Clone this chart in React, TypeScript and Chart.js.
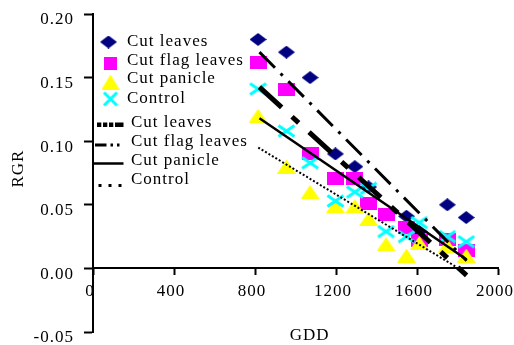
import React, { useEffect, useRef } from "react";
import { Chart, registerables } from "chart.js";

Chart.register(...registerables);

const FONT = '"Liberation Serif", "Times New Roman", serif';

const seriesNames = ["Cut leaves", "Cut flag leaves", "Cut panicle", "Control"];
const xTitle = "GDD";
const yTitle = "RGR";

// measured points (GDD on x, RGR on y)
const gdd = [815, 955, 1072, 1197, 1293, 1361, 1447, 1548, 1611, 1750, 1843];
const cutLeaves = [0.18, 0.17, 0.15, 0.09, 0.08, 0.064, null, 0.041, 0.029, 0.05, 0.04];
const cutFlagLeaves = [0.162, 0.141, 0.09, 0.071, 0.071, 0.051, 0.042, 0.032, 0.022, 0.023, 0.014];
const cutPanicle = [0.12, 0.08, 0.06, 0.049, 0.049, 0.039, 0.019, 0.01, 0.02, 0.018, 0.01];
const control = [0.141, 0.108, 0.083, 0.053, 0.06, 0.063, 0.029, 0.025, 0.036, 0.025, 0.021];

// linear trend lines (end points)
const trendGdd = [822, 1845];
const trendCutLeaves = [0.1425, -0.0055];
const trendCutFlagLeaves = [0.17, 0.006];
const trendCutPanicle = [0.118, 0.007];
const trendControlGdd = [816, 1790];
const trendControl = [0.095, 0.0015];

const xTicks = [0, 400, 800, 1200, 1600, 2000];
const yTicks = [-0.05, 0, 0.05, 0.1, 0.15, 0.2];

type Kind = "diamond" | "square" | "triangle" | "cross";

function makeMarker(kind: Kind, w: number, h: number): HTMLCanvasElement {
  const c = document.createElement("canvas");
  c.width = w;
  c.height = h;
  const ctx = c.getContext("2d")!;
  if (kind === "diamond") {
    ctx.fillStyle = "#000080";
    ctx.beginPath();
    ctx.moveTo(w / 2, 0);
    ctx.lineTo(w, h / 2);
    ctx.lineTo(w / 2, h);
    ctx.lineTo(0, h / 2);
    ctx.closePath();
    ctx.fill();
  } else if (kind === "square") {
    ctx.fillStyle = "#FF00FF";
    ctx.fillRect(0, 0, w, h);
  } else if (kind === "triangle") {
    ctx.fillStyle = "#FFFF00";
    ctx.beginPath();
    ctx.moveTo(w / 2, 0);
    ctx.lineTo(w, h);
    ctx.lineTo(0, h);
    ctx.closePath();
    ctx.fill();
  } else {
    ctx.strokeStyle = "#00FFFF";
    ctx.lineWidth = 3;
    ctx.beginPath();
    ctx.moveTo(1.5, 1.5);
    ctx.lineTo(w - 1.5, h - 1.5);
    ctx.moveTo(w - 1.5, 1.5);
    ctx.lineTo(1.5, h - 1.5);
    ctx.stroke();
  }
  return c;
}

const pts = (xs: number[], ys: (number | null)[]) =>
  xs
    .map((x, i) => ({ x, y: ys[i] }))
    .filter((p) => p.y !== null) as { x: number; y: number }[];

export default function App() {
  const ref = useRef<HTMLCanvasElement>(null);

  useEffect(() => {
    document.body.style.margin = "0";
    const canvas = ref.current!;
    const diamond = makeMarker("diamond", 17, 13);
    const square = makeMarker("square", 17, 13);
    const triangle = makeMarker("triangle", 19, 14);
    const cross = makeMarker("cross", 19, 14);
    const legendMarkers = [
      makeMarker("diamond", 17, 13),
      makeMarker("square", 13, 13),
      makeMarker("triangle", 18, 15),
      makeMarker("cross", 16, 16),
    ];

    const spacingPlugin = {
      id: "spacing",
      beforeUpdate(chart: any) {
        chart.ctx.letterSpacing = "1px";
      },
      beforeLayout(chart: any) {
        chart.ctx.letterSpacing = "1px";
      },
      beforeDraw(chart: any) {
        chart.ctx.letterSpacing = "1px";
      },
    };

    const titlesPlugin = {
      id: "axisTitles",
      afterDraw(chart: any) {
        const ctx = chart.ctx as CanvasRenderingContext2D;
        const xs = chart.scales.x;
        const ys = chart.scales.y;
        ctx.save();
        (ctx as any).letterSpacing = "1px";
        ctx.font = `17px ${FONT}`;
        ctx.fillStyle = "#000";
        ctx.textAlign = "center";
        ctx.textBaseline = "alphabetic";
        // x title below the plot, y title at the left
        ctx.fillText(xTitle, xs.getPixelForValue(1070), ys.getPixelForValue(-0.0565));
        ctx.translate(23, ys.getPixelForValue(0.0785));
        ctx.rotate(-Math.PI / 2);
        ctx.fillText(yTitle, 0, 0);
        ctx.restore();
      },
    };

    const legendPlugin = {
      id: "customLegend",
      afterDraw(chart: any) {
        const ctx = chart.ctx as CanvasRenderingContext2D;
        ctx.save();
        (ctx as any).letterSpacing = "1px";
        ctx.font = `17px ${FONT}`;
        ctx.fillStyle = "#000";
        ctx.textAlign = "left";
        ctx.textBaseline = "alphabetic";
        const markerPos = [
          [108.5, 42],
          [110.5, 63.5],
          [110.5, 82],
          [110.5, 99],
        ];
        const markerBase = [46, 64.8, 83.3, 102.5];
        seriesNames.forEach((name, i) => {
          const m = legendMarkers[i];
          ctx.drawImage(m, markerPos[i][0] - m.width / 2, markerPos[i][1] - m.height / 2);
          ctx.fillText(name, 127, markerBase[i]);
        });
        const lineBase = [127, 145.5, 164.5, 183.5];
        seriesNames.forEach((name, i) => ctx.fillText(name, 131, lineBase[i]));

        const seg = (x1: number, y: number, x2: number) => {
          ctx.beginPath();
          ctx.moveTo(x1, y);
          ctx.lineTo(x2, y);
          ctx.stroke();
        };
        ctx.strokeStyle = "#000";
        ctx.lineCap = "butt";
        ctx.lineWidth = 4.5;
        ctx.setLineDash([4.3, 1.7, 4.3, 1.7, 4.3, 1.7, 9, 20]);
        seg(97, 124.7, 123.5);
        ctx.lineWidth = 3;
        ctx.setLineDash([11.5, 4, 2.5, 4, 2.5, 20]);
        seg(95, 145, 121);
        ctx.lineWidth = 2.5;
        ctx.setLineDash([]);
        seg(93, 163.5, 123.5);
        ctx.lineWidth = 3;
        ctx.setLineDash([3, 7]);
        seg(98.5, 185.5, 122);
        ctx.restore();
      },
    };

    const trend = (label: string, xs: number[], ys: number[], width: number, dash: number[]) => ({
      label,
      data: pts(xs, ys),
      showLine: true,
      borderColor: "#000",
      backgroundColor: "#000",
      borderWidth: width,
      borderDash: dash,
      borderCapStyle: "butt",
      pointRadius: 0,
      order: 0,
    });

    const scatter = (label: string, ys: (number | null)[], style: HTMLCanvasElement, order: number) => ({
      label,
      data: pts(gdd, ys),
      pointStyle: style,
      pointRadius: 8,
      showLine: false,
      order,
    });

    const chart = new Chart(canvas, {
      type: "scatter",
      data: {
        datasets: [
          trend("Cut leaves trend", trendGdd, trendCutLeaves, 5, [30, 14, 9, 14]) as any,
          trend("Cut flag leaves trend", trendGdd, trendCutFlagLeaves, 3, [22, 8, 3, 8]) as any,
          trend("Cut panicle trend", trendGdd, trendCutPanicle, 2.5, []) as any,
          trend("Control trend", trendControlGdd, trendControl, 2, [2, 2]) as any,
          scatter(seriesNames[3], control, cross, 1) as any,
          scatter(seriesNames[2], cutPanicle, triangle, 2) as any,
          scatter(seriesNames[1], cutFlagLeaves, square, 3) as any,
          scatter(seriesNames[0], cutLeaves, diamond, 4) as any,
        ],
      },
      options: {
        responsive: false,
        animation: false,
        events: [],
        color: "#000",
        layout: { padding: { left: 0, top: 14, right: 16, bottom: 13 } },
        plugins: {
          legend: { display: false },
          tooltip: { enabled: false },
        },
        scales: {
          x: {
            type: "linear",
            min: 0,
            max: 2000,
            position: { y: 0 } as any,
            afterBuildTicks: (s: any) => {
              s.ticks = xTicks.map((v) => ({ value: v }));
            },
            afterFit: (s: any) => {
              s.paddingLeft = 0;
              s.paddingRight = 0;
            },
            ticks: {
              color: "#000",
              font: { family: FONT, size: 17 },
              padding: 7,
              labelOffset: -3,
              maxRotation: 0,
              autoSkip: false,
              z: -1,
              callback: (v: any) => String(v),
            },
            grid: {
              drawOnChartArea: false,
              drawTicks: true,
              tickLength: 6,
              tickWidth: 2,
              tickColor: "#000",
            },
            border: { display: true, color: "#000", width: 2 },
            title: { display: false },
          },
          y: {
            type: "linear",
            min: -0.05,
            max: 0.2,
            position: "left",
            afterBuildTicks: (s: any) => {
              s.ticks = yTicks.map((v) => ({ value: v }));
            },
            afterFit: (s: any) => {
              s.width = 93;
              s.paddingTop = 0;
              s.paddingBottom = 0;
            },
            ticks: {
              color: "#000",
              font: { family: FONT, size: 17 },
              padding: 10,
              labelOffset: 6,
              autoSkip: false,
              callback: (v: any) => (Math.abs(v) < 1e-9 ? 0 : v).toFixed(2),
            },
            grid: {
              drawOnChartArea: false,
              drawTicks: true,
              tickLength: 9,
              tickWidth: 2,
              tickColor: "#000",
            },
            border: { display: true, color: "#000", width: 2 },
            title: { display: false },
          },
        },
      },
      plugins: [spacingPlugin, titlesPlugin, legendPlugin],
    } as any);

    return () => chart.destroy();
  }, []);

  return (
    <canvas
      ref={ref}
      width={514}
      height={345}
      style={{ display: "block", width: 514, height: 345 }}
    />
  );
}
